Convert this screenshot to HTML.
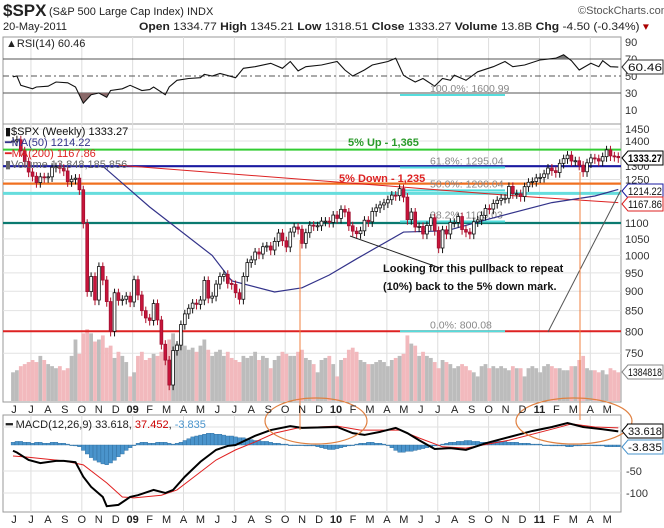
<!DOCTYPE html>
<html><head><meta charset="utf-8">
<style>
html,body{margin:0;padding:0;background:#fff;}
svg{display:block;font-family:"Liberation Sans",sans-serif;}
</style></head>
<body>
<svg id="chart" width="664" height="528" viewBox="0 0 664 528" xmlns="http://www.w3.org/2000/svg">
  <rect x="0" y="0" width="664" height="528" fill="#fff"/>
  <g id="header">
    <text x="3" y="16" font-size="17" font-weight="bold" fill="#222">$SPX</text>
    <text x="49" y="15" font-size="11" fill="#222">(S&amp;P 500 Large Cap Index) INDX</text>
    <text x="578" y="14" font-size="11" fill="#555">©StockCharts.com</text>
    <text x="3" y="30" font-size="11" fill="#222">20-May-2011</text>
    <text x="139" y="30" font-size="11" fill="#222" textLength="510" lengthAdjust="spacingAndGlyphs"><tspan font-weight="bold">Open</tspan> 1334.77 <tspan font-weight="bold">High</tspan> 1345.21 <tspan font-weight="bold">Low</tspan> 1318.51 <tspan font-weight="bold">Close</tspan> 1333.27 <tspan font-weight="bold">Volume</tspan> 13.8B <tspan font-weight="bold">Chg</tspan> -4.50 (-0.34%) <tspan fill="#a00">▾</tspan></text>
  </g>
  <g id="grid"></g>
  <g id="rsi"></g>
  <g id="vol"></g>
  <g id="price"></g>
  <g id="macd"></g>
  <g id="overlay"></g>
  <g id="axes"></g>
</svg>
<script>
// ---------- DATA ----------
const closes = [1400,1405,1360,1318,1278,1262,1239,1260,1257,1260,1296,1298,1292,1282,1242,1251,1255,1213,1099,899,940,877,968,930,873,800,896,876,879,887,872,
931,890,850,832,826,868,827,770,735,683,756,768,816,842,856,869,866,877,929,882,887,919,940,946,921,918,896,879,940,979,987,1010,1004,1026,1028,1016,1042,1068,1044,1025,1071,1087,1080,1036,1069,1093,1091,1091,1106,1106,1102,1126,1115,
1145,1136,1091,1074,1066,1075,1109,1104,1138,1150,1160,1167,1178,1194,1192,1217,1187,1111,1136,1087,1089,1065,1092,1117,1076,1022,1078,1065,1102,1102,1121,1079,1071,1065,1104,1110,1125,1148,1146,1165,1176,1183,1183,1225,1199,1199,1189,1224,1240,1243,1256,1258,
1271,1293,1283,1276,1311,1329,1343,1320,1321,1304,1279,1313,1332,1329,1320,1337,1364,1340,1338,1333];
const volumes = [14,15,17,18,19,20,19,22,20,18,17,16,17,15,16,22,30,23,33,35,33,29,30,32,26,27,21,24,22,19,12,
14,22,24,20,21,23,22,24,26,30,33,28,30,27,25,26,24,27,30,25,22,24,25,22,24,21,20,19,22,21,22,24,20,22,21,16,20,22,24,23,22,22,24,25,21,20,18,14,20,21,22,18,12,
20,21,25,26,24,20,19,18,18,19,20,19,17,20,21,22,23,32,28,27,22,24,22,21,19,16,20,19,18,16,17,18,17,15,14,12,17,18,16,17,16,17,16,15,17,16,16,12,16,17,16,14,
17,18,17,16,16,15,15,17,17,20,22,16,15,15,14,15,13,16,15,14];
const ma50Weeks = [23,35,51,56,67,74,81,88,100,111,121,138,149,155];
const ma50Vals  = [1300,1153,1000,928,898,909,944,990,1071,1075,1110,1168,1191,1214.22];
const ma200Weeks = [27,104,130,155];
const ma200Vals  = [1304,1218,1190,1167.86];
const rsiWeeks = [0,1,2,5,6,9,11,14,16,18,20,22,24,25,28,30,33,35,36,39,40,42,45,48,49,51,53,57,59,62,66,69,71,73,75,79,83,85,87,90,92,96,98,100,101,103,105,108,110,112,113,116,119,123,126,128,131,135,139,141,143,145,148,150,151,153,155];
const rsiVals  = [49,50,39,35,37,38,43,42,37,18,28,30,25,33,35,39,33,34,37,28,37,45,47,48,52,50,53,48,59,61,65,59,67,56,61,63,67,57,50,57,63,67,71,51,48,43,47,38,47,45,51,45,55,61,67,61,63,69,71,75,68,57,65,61,68,61,60.46];
const macdWeeks = [0,1,4,7,11,13,16,18,20,23,24,27,30,32,36,39,41,44,48,52,55,57,62,66,71,74,83,87,90,94,98,101,104,108,112,116,121,127,133,138,142,146,151,155];
const macdVals  = [-4,-8,-25,-32,-27,-27,-30,-63,-86,-109,-130,-127,-109,-105,-93,-100,-93,-63,-29,-2,7,9,30,43,52,48,50,36,32,39,48,36,20,0,2,-2,13,27,41,50,59,50,45,40];
const signalWeeks = [0,3,13,18,24,28,31,38,42,47,52,57,62,67,73,83,89,99,104,110,116,127,138,143,149,155];
const signalVals  = [-16,-18,-27,-36,-77,-109,-111,-105,-93,-59,-25,-2,16,36,48,52,43,43,25,5,2,20,45,57,50,48];
const histVals = [3,4,4,3,3,2,3,3,2,2,3,3,2,2,1,0,-1,-2,
-6,-10,-14,-17,-19,-21,-22,-20,-17,-13,-10,-6,-3,
0,2,3,3,2,2,3,3,3,2,1,2,3,5,7,9,10,
11,12,13,13,12,12,11,10,10,9,8,8,7,
6,5,5,4,4,3,2,2,1,1,0,0,0,0,-1,
-1,-1,-2,-3,-4,-5,-5,-4,-3,-2,-1,0,1,2,2,
3,3,2,2,1,0,-3,-6,-8,-8,-7,-7,-6,-5,-4,
-3,-2,-1,0,1,2,3,3,4,4,5,5,4,4,3,
3,3,3,4,4,4,3,3,3,2,2,2,1,1,1,0,0,-1,-1,-1,
-1,-2,-2,-1,-1,0,0,0,-1,-1,-1,-2,-2,-2,-2];
const priceTicks = [1450,1400,1300,1250,1100,1050,1000,950,900,850,800,750];
const rsiTicks = [90,70,50,30,10];
const macdTicks = [50,-50,-100];
const monthLabels = ["J","J","A","S","O","N","D","09","F","M","A","M","J","J","A","S","O","N","D","10","F","M","A","M","J","J","A","S","O","N","D","11","F","M","A","M"];

// ---------- SCALES ----------
const NS="http://www.w3.org/2000/svg";
const X0=3, X1=621;
function wx(i){return 13+i*3.905;}
function mx(m){return 14+m*16.95;}
function py(v){return 223-340*Math.log(v/1100);}
function ry(v){return 76-(v-50)*0.85;}
function my(v){return 449-v*0.44;}
function vy(v){return 401-v*2.05;}
function hy(v){return 445-v*0.9;}
function mk(tag,attrs,parent){const e=document.createElementNS(NS,tag);for(const k in attrs)e.setAttribute(k,attrs[k]);parent.appendChild(e);return e;}
const G=id=>document.getElementById(id);
const grid=G('grid'),rsiG=G('rsi'),volG=G('vol'),priceG=G('price'),macdG=G('macd'),ov=G('overlay'),axes=G('axes');

[[37,124,'rsi-frame'],[124,402,'price-frame'],[415,512,'macd-frame']].forEach(p=>{
  const r=mk('rect',{x:X0,y:p[0],width:X1-X0,height:p[1]-p[0],fill:'none',stroke:'#999','stroke-width':1},grid);
  
  
});
for(let m=1;m<36;m+=3){
  [[37,124],[124,402],[415,512]].forEach(p=>{
    const l=mk('line',{x1:mx(m),x2:mx(m),y1:p[0],y2:p[1],stroke:'#ddd','stroke-width':1},grid);
    
    
  });
}
priceTicks.forEach(t=>{
  const l=mk('line',{x1:X0,x2:X1,y1:py(t),y2:py(t),stroke:'#e2e2e2'},grid);
  
  
  const tx=mk('text',{x:625,y:py(t)+4,'font-size':11,fill:'#333'},axes);tx.textContent=t;
  
  
});
rsiTicks.forEach(t=>{
  const tx=mk('text',{x:625,y:ry(t)+4,'font-size':11,fill:'#333'},axes);tx.textContent=t;
  
  
});
macdTicks.forEach(t=>{
  const l=mk('line',{x1:X0,x2:X1,y1:my(t),y2:my(t),stroke:'#e2e2e2'},grid);
  
  
  const tx=mk('text',{x:626,y:my(t)+4,'font-size':11,fill:'#333'},axes);tx.textContent=t;
  
  
});
monthLabels.forEach((s,m)=>{
  [413,523].forEach(y=>{
    const tx=mk('text',{x:mx(m),y:y,'font-size':11,'text-anchor':'middle',fill:'#222','font-weight':(s.length>1?'bold':'normal')},axes);tx.textContent=s;
    
    
  });
});

// ---------- RSI ----------
[[70,'none'],[30,'none'],[50,'6,3,2,3']].forEach(l=>{
  const e=mk('line',{x1:X0,x2:X1,y1:ry(l[0]),y2:ry(l[0]),stroke:'#555','stroke-dasharray':l[1]},rsiG);
  
  
});
const rsiPts=rsiWeeks.map((w,k)=>wx(w).toFixed(1)+','+ry(rsiVals[k]).toFixed(1));
const cp1=mk('clipPath',{id:'below30'},rsiG);mk('rect',{x:0,y:ry(30),width:664,height:40},cp1);
const cp2=mk('clipPath',{id:'above70'},rsiG);mk('rect',{x:0,y:30,width:664,height:ry(70)-30},cp2);
const f1=mk('polygon',{points:rsiPts.join(' ')+' '+wx(155)+','+ry(30)+' '+wx(0)+','+ry(30),fill:'#8a6a6a','clip-path':'url(#below30)'},rsiG);


const f2=mk('polygon',{points:rsiPts.join(' ')+' '+wx(155)+','+ry(70)+' '+wx(0)+','+ry(70),fill:'#777','clip-path':'url(#above70)'},rsiG);


const rl=mk('polyline',{points:rsiPts.join(' '),fill:'none',stroke:'#111','stroke-width':1.1},rsiG);


const rt=mk('text',{x:6,y:47,'font-size':11,fill:'#222'},rsiG);rt.textContent='▲RSI(14) 60.46';



// ---------- VOLUME ----------
volumes.forEach((v,i)=>{
  const up=i===0||closes[i]>=closes[i-1];
  const b=mk('rect',{x:wx(i)-1.9,y:vy(v),width:3.8,height:401-vy(v),fill:up?'#bcbcbc':'#f2b9bd'},volG);
  
  
});

// ---------- LEVEL LINES ----------
[[1365,'#33cc33',2,'five-pct-up-line'],[1300,'#1a1aa0',2.2,'resistance-1300-line'],[1235,'#f07020',2.2,'five-pct-down-line'],[1200,'#66dddd',3,'fib-50-line'],[1100,'#0a7a70',2.2,'support-1100-line'],[800,'#dd2222',2,'low-800-line']].forEach(l=>{
  const e=mk('line',{x1:X0,x2:X1,y1:py(l[0]),y2:py(l[0]),stroke:l[1],'stroke-width':l[2]},priceG);
  
  
});
[[py(1295),'61.8%: 1295.04'],[py(1200)-3,'50.0%: 1200.04'],[py(1105),'38.2%: 1105.03'],[py(800),'0.0%: 800.08'],[95,'100.0%: 1600.99']].forEach(f=>{
  const s=mk('line',{x1:400,x2:505,y1:f[0],y2:f[0],stroke:'#55dddd','stroke-width':2},priceG);
  
  
  const t=mk('text',{x:430,y:f[0]-3,'font-size':10.5,fill:'#888'},priceG);t.textContent=f[1];
  
  
});

// ---------- MAs ----------
const m200=mk('polyline',{points:ma200Weeks.map((w,k)=>wx(w)+','+py(ma200Vals[k])).join(' '),fill:'none',stroke:'#d22','stroke-width':1},priceG);


const m50=mk('polyline',{points:ma50Weeks.map((w,k)=>wx(w)+','+py(ma50Vals[k])).join(' '),fill:'none',stroke:'#33338a','stroke-width':1.2},priceG);



// ---------- CANDLES ----------
closes.forEach((c,i)=>{
  const o=i===0?c:closes[i-1];
  const up=c>=o;
  const hi=Math.max(o,c)*1.012, lo=Math.min(o,c)*0.985;
  const x=wx(i);
  const w=mk('line',{x1:x,x2:x,y1:py(hi),y2:py(lo),stroke:up?'#111':'#b0102a','stroke-width':1},priceG);
  
  
  const top=py(Math.max(o,c)), bot=py(Math.min(o,c));
  const b=mk('rect',{x:x-1.4,y:top,width:2.8,height:Math.max(1,bot-top),fill:up?'#fff':'#c8143a',stroke:up?'#111':'#a01030','stroke-width':0.8},priceG);
  
  
});

// ---------- MACD ----------
histVals.forEach((v,i)=>{
  const y=Math.min(hy(0),hy(v));
  const b=mk('rect',{x:wx(i)-1.9,y:y,width:3.8,height:Math.max(0.6,Math.abs(hy(v)-hy(0))),fill:'#4a94cc',stroke:'#2a6a9c','stroke-width':0.4},macdG);
  
  
});
const sg=mk('polyline',{points:signalWeeks.map((w,k)=>wx(w)+','+my(signalVals[k])).join(' '),fill:'none',stroke:'#e02020','stroke-width':1},macdG);


const ml=mk('polyline',{points:macdWeeks.map((w,k)=>wx(w)+','+my(macdVals[k])).join(' '),fill:'none',stroke:'#000','stroke-width':2},macdG);


const mt=mk('text',{x:6,y:428,'font-size':11,fill:'#222'},macdG);
mt.innerHTML='<tspan font-weight="bold">━</tspan> MACD(12,26,9) 33.618, <tspan fill="#c00">37.452</tspan>, <tspan fill="#4a94cc">-3.835</tspan>';



// ---------- LEGEND ----------
[['▮$SPX (Weekly) 1333.27','#111',135,'price-legend'],['━MA(50) 1214.22','#33338a',146,'ma50-legend'],['━MA(200) 1167.86','#d22',157,'ma200-legend'],['▮Volume 13,848,185,856','#666',168,'volume-legend']].forEach(l=>{
  const t=mk('text',{x:5,y:l[2],'font-size':11,fill:l[1]},priceG);t.textContent=l[0];
  
  
});

// ---------- ANNOTATIONS ----------
function txt(x,y,s,attrs,name){const t=mk('text',Object.assign({x:x,y:y,'font-size':11},attrs),ov);t.textContent=s;
  
  
  return t;}
txt(348,146,'5% Up - 1,365',{fill:'#2a9a2a','font-weight':'bold'},'five-pct-up-label');
txt(339,182,'5% Down - 1,235',{fill:'#dd2222','font-weight':'bold'},'five-pct-down-label');
txt(383,272,'Looking for this pullback to repeat',{fill:'#111','font-weight':'bold'},'note-line-1');
txt(383,290,'(10%) back to the 5% down mark.',{fill:'#111','font-weight':'bold'},'note-line-2');
[[350,236,440,268,'#222','pullback-arrow'],[548,332,621,190,'#555','trend-line'],[300,240,300,430,'#f08040','orange-marker-1'],[580,172,580,420,'#f08040','orange-marker-2']].forEach(l=>{
  const e=mk('line',{x1:l[0],y1:l[1],x2:l[2],y2:l[3],stroke:l[4],'stroke-width':1},ov);
  
  
});
[[316,421,51,23,'macd-circle-1'],[574,421,58,23,'macd-circle-2']].forEach(c=>{
  const e=mk('ellipse',{cx:c[0],cy:c[1],rx:c[2],ry:c[3],fill:'none',stroke:'#e08040','stroke-width':1.2},ov);
  
  
});

// ---------- VALUE TAGS ----------
[[158,'1333.27','#000','#000',true,'last-price-tag'],[191,'1214.22','#1a1aa0','#111',false,'ma50-tag'],[204,'1167.86','#d22','#111',false,'ma200-tag'],[372,'1384818','#888','#111',false,'volume-tag'],[67,'60.46','#333','#111',false,'rsi-tag'],[431,'33.618','#000','#111',false,'macd-tag'],[447,'-3.835','#4a94cc','#111',false,'histogram-tag']].forEach(t=>{
  const y=t[0];
  const p=mk('polygon',{points:`622,${y} 628,${y-7} 663,${y-7} 663,${y+7} 628,${y+7}`,fill:'#fff',stroke:t[2],'stroke-width':1},axes);
  
  
  const s=mk('text',{x:628,y:y+4,'font-size':11,'font-weight':t[4]?'bold':'normal',fill:t[3],textLength:34,lengthAdjust:'spacingAndGlyphs'},axes);s.textContent=t[1];
  
  
});
</script>
</body></html>
